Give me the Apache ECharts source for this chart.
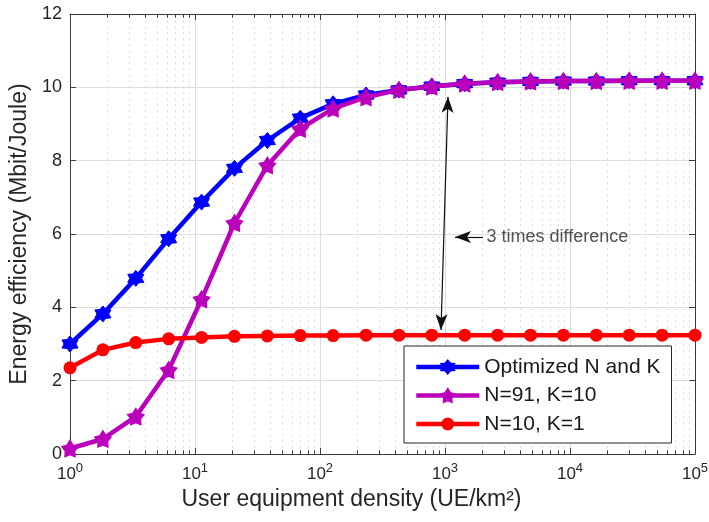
<!DOCTYPE html>
<html>
<head>
<meta charset="utf-8">
<script src="https://cdn.jsdelivr.net/npm/echarts@6/dist/echarts.min.js"></script>
<style>
  html, body { margin: 0; padding: 0; background: #fff; }
  #chart { width: 709px; height: 522px; }
</style>
</head>
<body>
<div id="chart"></div>
<script>
// User equipment density (UE/km^2), 20 log-spaced samples from 1 to 1e5
const density = [1, 1.833, 3.360, 6.158, 11.29, 20.69, 37.93, 69.52, 127.4, 233.6,
                 428.1, 784.8, 1438, 2637, 4833, 8859, 16238, 29764, 54556, 100000];

// Energy efficiency (Mbit/Joule)
const optimizedNK = [3.00, 3.82, 4.79, 5.87, 6.87, 7.79, 8.55, 9.16, 9.55, 9.79,
                     9.93, 10.03, 10.10, 10.14, 10.16, 10.17, 10.17, 10.18, 10.18, 10.18];
const n91k10 = [0.15, 0.41, 1.02, 2.29, 4.22, 6.30, 7.87, 8.87, 9.42, 9.73,
                9.93, 10.02, 10.10, 10.14, 10.16, 10.17, 10.17, 10.18, 10.18, 10.18];
const n10k1 = [2.35, 2.84, 3.04, 3.14, 3.18, 3.21, 3.22, 3.23, 3.23, 3.24,
               3.24, 3.24, 3.24, 3.24, 3.24, 3.24, 3.24, 3.24, 3.24, 3.24];

const seriesNames = ['Optimized N and K', 'N=91, K=10', 'N=10, K=1'];
const yTicks = { min: 0, max: 12, step: 2 };
const xRange = { min: 1, max: 100000 };
const noteText = '3 times difference';

const FONT = '"Liberation Sans", Arial, Helvetica, sans-serif';
const INK = '#262626';

// star-shaped marker outlines
function starPath(points, inner) {
  const pts = [];
  for (let i = 0; i < 2 * points; i++) {
    const r = (i % 2) ? inner : 1;
    const a = -Math.PI / 2 + i * Math.PI / points;
    pts.push((r * Math.cos(a) * 50).toFixed(2) + ' ' + (r * Math.sin(a) * 50).toFixed(2));
  }
  return 'path://M' + pts.join(' L') + ' Z';
}
const hexagram = starPath(6, 0.64);
const pentagram = starPath(5, 0.58);

// logarithmic minor positions 2..9 in every decade
const minorX = [];
for (let d = 0; d < 5; d++) {
  for (let m = 2; m <= 9; m++) minorX.push(m * Math.pow(10, d));
}

const pairs = (xs, y0, y1) => xs.map(x => [{ coord: [x, y0] }, { coord: [x, y1] }]);
const zip = (ys) => density.map((x, i) => [x, ys[i]]);

const chart = echarts.init(document.getElementById('chart'), null, { renderer: 'canvas' });

const axisLineStyle = { color: '#3a3a3a', width: 1 };

chart.setOption({
  animation: false,
  backgroundColor: '#fff',
  grid: { left: 70, right: 14, top: 14, bottom: 68, containLabel: false, outerBoundsMode: 'none' },
  legend: {
    data: seriesNames,
    orient: 'vertical',
    left: 404,
    top: 346,
    z: 20,
    padding: [10, 11, 8, 10],
    itemWidth: 63,
    itemHeight: 16,
    itemGap: 6.5,
    lineStyle: { width: 'inherit', type: 'solid' },
    backgroundColor: '#fff',
    borderColor: INK,
    borderWidth: 1,
    borderRadius: 0,
    textStyle: { fontFamily: FONT, fontSize: 21, color: '#1a1a1a', lineHeight: 22 }
  },
  xAxis: [
    {
      type: 'log', logBase: 10, min: xRange.min, max: xRange.max, splitNumber: 5,
      name: 'User equipment density (UE/km²)',
      nameLocation: 'middle', nameGap: 33,
      nameTextStyle: { fontFamily: FONT, fontSize: 23, color: INK, padding: [0, 62, 0, 0] },
      axisLine: { show: true, onZero: false, lineStyle: axisLineStyle },
      axisTick: { show: true, inside: true, length: 6, lineStyle: axisLineStyle },
      axisLabel: {
        margin: 8,
        formatter: v => '{b|10}{s|' + Math.round(Math.log10(v)) + '}',
        rich: {
          b: { fontFamily: FONT, fontSize: 17, color: INK, verticalAlign: 'bottom' },
          s: { fontFamily: FONT, fontSize: 13, color: INK, verticalAlign: 'bottom', padding: [0, 0, 8, 0] }
        }
      },
      splitLine: { show: true, lineStyle: { color: '#dcdcdc', width: 1 } }
    },
    {
      type: 'log', logBase: 10, min: xRange.min, max: xRange.max, splitNumber: 5,
      position: 'top',
      axisLine: { show: true, onZero: false, lineStyle: axisLineStyle },
      axisTick: { show: true, inside: true, length: 6, lineStyle: axisLineStyle },
      axisLabel: { show: false },
      splitLine: { show: false }
    }
  ],
  yAxis: [
    {
      type: 'value', min: yTicks.min, max: yTicks.max, interval: yTicks.step,
      name: 'Energy efficiency (Mbit/Joule)',
      nameLocation: 'middle', nameGap: 37,
      nameTextStyle: { fontFamily: FONT, fontSize: 23, color: INK },
      axisLine: { show: true, lineStyle: axisLineStyle },
      axisTick: { show: true, inside: true, length: 6, lineStyle: axisLineStyle },
      axisLabel: { margin: 8, fontFamily: FONT, fontSize: 18, color: INK },
      splitLine: { show: true, lineStyle: { color: '#dcdcdc', width: 1 } }
    },
    {
      type: 'value', min: yTicks.min, max: yTicks.max, interval: yTicks.step,
      position: 'right',
      axisLine: { show: true, lineStyle: axisLineStyle },
      axisTick: { show: true, inside: true, length: 6, lineStyle: axisLineStyle },
      axisLabel: { show: false },
      splitLine: { show: false }
    }
  ],
  series: [
    {
      // dotted minor grid of the log axis, kept underneath the curves
      name: 'minor', type: 'line', data: [], z: 1, silent: true,
      markLine: {
        z: 1,
        silent: true, symbol: 'none', label: { show: false }, animation: false,
        emphasis: { disabled: true },
        lineStyle: { color: '#d2d2d2', width: 1, type: [1.5, 4.5] },
        data: minorX.map(v => ({ xAxis: v }))
      }
    },
    {
      // minor ticks on the bottom and top axes
      name: 'ticks', type: 'line', data: [], z: 2, silent: true,
      markLine: {
        z: 2,
        silent: true, symbol: 'none', label: { show: false }, animation: false,
        emphasis: { disabled: true },
        lineStyle: { color: '#3a3a3a', width: 1, type: 'solid' },
        data: pairs(minorX, 0, 0.1).concat(pairs(minorX, 12, 11.9))
      }
    },
    {
      name: seriesNames[0], type: 'line', data: zip(optimizedNK), z: 4,
      symbol: hexagram, symbolSize: 16,
      lineStyle: { color: '#0000ff', width: 4.5, type: 'solid' },
      itemStyle: { color: '#0000ff', borderColor: '#0000ff', borderWidth: 1 }
    },
    {
      name: seriesNames[1], type: 'line', data: zip(n91k10), z: 5,
      symbol: pentagram, symbolSize: 16,
      lineStyle: { color: '#bb00bb', width: 4.5, type: 'solid' },
      itemStyle: { color: '#bb00bb', borderColor: '#bb00bb', borderWidth: 1.5 }
    },
    {
      name: seriesNames[2], type: 'line', data: zip(n10k1), z: 6,
      symbol: 'circle', symbolSize: 13,
      lineStyle: { color: '#ff0000', width: 4.5, type: 'solid' },
      itemStyle: { color: '#ff0000' }
    },
    {
      // annotation arrows and note
      name: 'note', type: 'scatter', z: 8, silent: true,
      data: [[2150, 5.92]], symbolSize: 0,
      label: {
        show: true, position: 'right', distance: 0, formatter: noteText,
        fontFamily: FONT, fontSize: 18, color: INK
      },
      markLine: {
        z: 8,
        silent: true, label: { show: false }, animation: false,
        emphasis: { disabled: true },
        symbol: ['arrow', 'arrow'], symbolSize: [9, 16],
        lineStyle: { color: '#111', width: 1.2, type: 'solid' },
        itemStyle: { color: '#111' },
        data: [
          [{ coord: [1057, 9.74] }, { coord: [929, 3.38] }],
          [{ coord: [2014, 5.92], symbol: 'none' }, { coord: [1202, 5.92], symbol: 'arrow' }]
        ]
      }
    }
  ]
});
</script>
</body>
</html>
